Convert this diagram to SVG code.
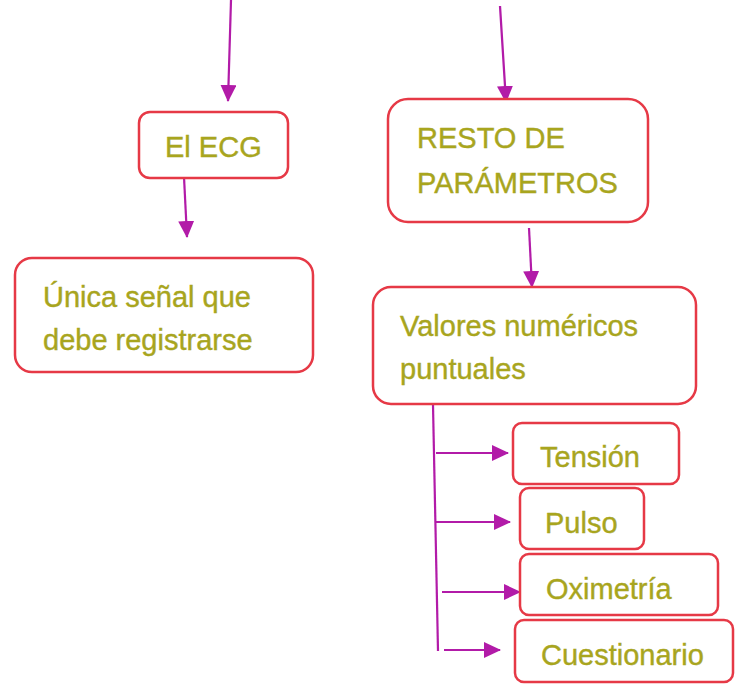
<svg xmlns="http://www.w3.org/2000/svg" width="740" height="694" viewBox="0 0 740 694">
<style>
.box{fill:#fff;stroke:#E63946;stroke-width:2.5}
.t{font-family:"Liberation Sans",Arial,sans-serif;font-size:29px;fill:#A8A51E;stroke:#A8A51E;stroke-width:0.4}
.c{stroke:#B21BA8;stroke-width:2.2;fill:none}
</style>
<defs>
<marker id="ah" viewBox="0 0 17 16" refX="16" refY="8" markerWidth="17" markerHeight="16" markerUnits="userSpaceOnUse" orient="auto">
<path d="M0,0 L17,8 L0,16 z" fill="#B21BA8"/>
</marker>
</defs>
<rect width="740" height="694" fill="#fff"/>
<g id="connectors">
<line class="c" x1="231" y1="0" x2="228" y2="101" marker-end="url(#ah)"/>
<line class="c" x1="500" y1="6" x2="506" y2="102" marker-end="url(#ah)"/>
<line class="c" x1="184" y1="177" x2="187" y2="237" marker-end="url(#ah)"/>
<line class="c" x1="529" y1="228" x2="532" y2="287" marker-end="url(#ah)"/>
<line class="c" x1="433" y1="405" x2="438" y2="651"/>
<line class="c" x1="436" y1="453" x2="508" y2="453" marker-end="url(#ah)"/>
<line class="c" x1="436" y1="522" x2="510" y2="522" marker-end="url(#ah)"/>
<line class="c" x1="442" y1="592" x2="520" y2="592" marker-end="url(#ah)"/>
<line class="c" x1="444" y1="650" x2="500" y2="650" marker-end="url(#ah)"/>
</g>
<g id="ecg">
<rect class="box" x="139" y="112" width="149" height="66" rx="11"/>
<text class="t" x="165" y="157">El ECG</text>
</g>
<g id="resto">
<rect class="box" x="388" y="99" width="260" height="123" rx="20"/>
<text class="t" x="417" y="148">RESTO DE</text>
<text class="t" x="417" y="193">PARÁMETROS</text>
</g>
<g id="unica">
<rect class="box" x="15" y="258" width="298" height="114" rx="17"/>
<text class="t" x="43" y="307">Única señal que</text>
<text class="t" x="43" y="350">debe registrarse</text>
</g>
<g id="valores">
<rect class="box" x="373" y="287" width="323" height="117" rx="18"/>
<text class="t" x="400" y="336">Valores numéricos</text>
<text class="t" x="400" y="379">puntuales</text>
</g>
<g id="tension">
<rect class="box" x="513" y="423" width="166" height="61" rx="9"/>
<text class="t" x="540" y="467">Tensión</text>
</g>
<g id="pulso">
<rect class="box" x="520" y="488" width="124" height="61" rx="9"/>
<text class="t" x="545" y="533">Pulso</text>
</g>
<g id="oximetria">
<rect class="box" x="520" y="554" width="198" height="61" rx="9"/>
<text class="t" x="546" y="599">Oximetría</text>
</g>
<g id="cuestionario">
<rect class="box" x="515" y="620" width="218" height="62" rx="9"/>
<text class="t" x="541" y="665">Cuestionario</text>
</g>
</svg>
